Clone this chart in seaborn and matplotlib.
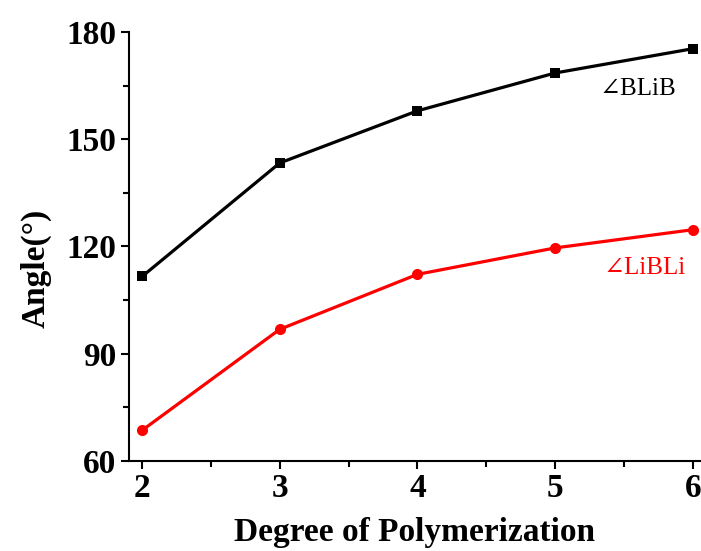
import matplotlib
matplotlib.use("Agg")
import matplotlib.pyplot as plt
import seaborn as sns
import pandas as pd
from matplotlib.ticker import MultipleLocator

degree = [2, 3, 4, 5, 6]
blib = [111.6, 143.4, 158.0, 168.6, 175.4]
libli = [68.5, 96.8, 112.2, 119.6, 124.7]

sns.set_style("ticks")
plt.rcParams['font.family'] = ['Liberation Serif', 'DejaVu Serif']
plt.rcParams['text.color'] = 'black'
plt.rcParams['axes.labelcolor'] = 'black'
plt.rcParams['xtick.color'] = 'black'
plt.rcParams['ytick.color'] = 'black'
plt.rcParams['axes.edgecolor'] = 'black'

fig = plt.figure(figsize=(7.01, 5.51), dpi=100)
ax = fig.add_axes([129/701, (551-460.7)/551, 1 - 129/701, (460.7-32.3)/551])

df1 = pd.DataFrame({"x": degree, "y": blib})
df2 = pd.DataFrame({"x": degree, "y": libli})
sns.lineplot(data=df1, x="x", y="y", ax=ax, color="black", lw=2.3,
             marker="s", markersize=7, markeredgewidth=0)
sns.lineplot(data=df2, x="x", y="y", ax=ax, color="#ff0000", lw=2.3,
             marker="o", markersize=8, markeredgewidth=0)

ax.set_xlim(1.905, 6.06)
ax.set_ylim(60, 180)
ax.xaxis.set_major_locator(MultipleLocator(1))
ax.xaxis.set_minor_locator(MultipleLocator(0.5))
ax.yaxis.set_major_locator(MultipleLocator(30))
ax.yaxis.set_minor_locator(MultipleLocator(15))
for s in ["top", "right"]:
    ax.spines[s].set_visible(False)
for s in ["left", "bottom"]:
    ax.spines[s].set_linewidth(1.5)
ax.tick_params(which="major", direction="out", length=6, width=1.5,
               labelsize=24, pad=3, colors="black")
ax.tick_params(which="minor", direction="out", length=4, width=1.5, colors="black")
for lab in ax.get_xticklabels() + ax.get_yticklabels():
    lab.set_fontweight("bold")

ax.set_xlabel("Degree of Polymerization", fontsize=24, fontweight="bold",
              labelpad=9, color="black")
ax.set_ylabel("Angle(°)", fontsize=24, fontweight="bold", labelpad=11, color="black")
ax.yaxis.label.set_y(0.45)

ax.text(5.32, 164, "∠BLiB", fontsize=18, color="black", ha="left", va="center")
ax.text(5.35, 114.0, "∠LiBLi", fontsize=18, color="#ff0000", ha="left", va="center")

fig.savefig("out.png", dpi=100)
